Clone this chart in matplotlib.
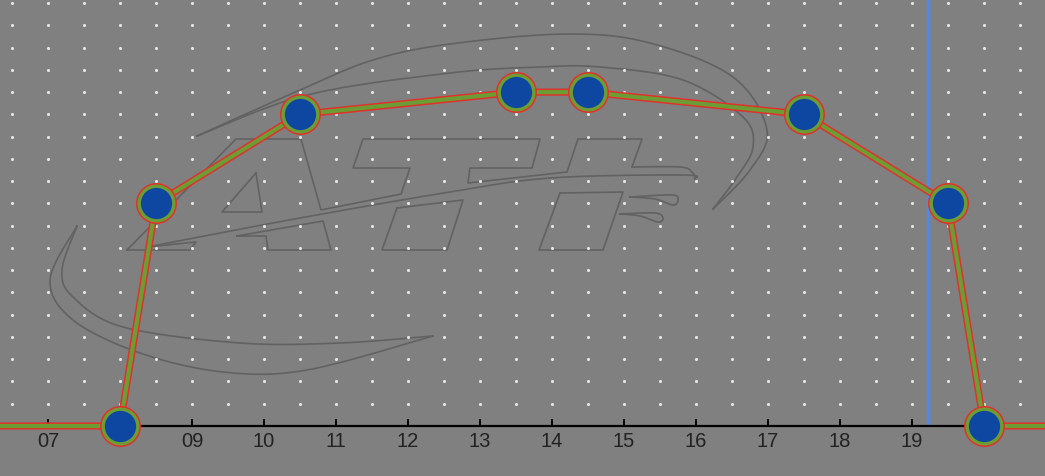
import numpy as np
import matplotlib
matplotlib.use("Agg")
import matplotlib.pyplot as plt
import matplotlib.transforms as mtransforms

# data (hour of day, value)
hours = [6.0, 8.0, 8.5, 10.5, 13.5, 14.5, 17.5, 19.5, 20.0, 21.0]
values = [0, 0, 10, 14, 15, 15, 14, 10, 0, 0]
marker_hours = hours[1:-1]
marker_values = values[1:-1]
now_hour = 19.22
tick_hours = [7, 8, 9, 10, 11, 12, 13, 14, 15, 16, 17, 18, 19]
tick_labels = ["07", "", "09", "10", "11", "12", "13", "14", "15", "16", "17", "18", "19"]

BG = "#808080"
RED = "#e0322c"
GREEN = "#6c9c34"
BLUE = "#0d47a1"
LOGO = "#626262"


def smooth(pts, n=12):
    # catmull-rom through the given points
    p = np.array(pts, float)
    p = np.vstack([p[0], p, p[-1]])
    out = []
    t = np.linspace(0, 1, n, endpoint=False)[:, None]
    for i in range(1, len(p) - 2):
        p0, p1, p2, p3 = p[i - 1], p[i], p[i + 1], p[i + 2]
        out.append(0.5 * (2 * p1 + (-p0 + p2) * t + (2 * p0 - 5 * p1 + 4 * p2 - p3) * t ** 2
                          + (-p0 + 3 * p1 - 3 * p2 + p3) * t ** 3))
    out.append(p[-2][None])
    return np.vstack(out)


fig = plt.figure(figsize=(10.45, 4.76), dpi=100, facecolor=BG)
ax = fig.add_axes([0, 50 / 476, 1, 426 / 476])
ax.set_facecolor(BG)
ax.set_xlim(6.333, 20.847)
ax.set_ylim(0, 19.14)

# watermark logo, drawn in pixel coordinates
px = mtransforms.Affine2D().scale(1 / 1045, -1 / 476).translate(0, 1) + fig.transFigure
curves = [
    [(197, 136), (300, 90), (373, 60), (450, 44), (567, 34), (650, 43), (733, 77), (767, 130), (750, 170), (713, 209)],
    [(197, 136), (307, 95), (450, 73), (540, 67), (600, 67), (683, 80), (743, 117), (753, 147), (737, 177), (713, 209)],
    [(77, 226), (50, 280), (73, 320), (140, 353), (223, 372), (307, 370), (433, 336)],
    [(77, 226), (62, 270), (73, 297), (123, 327), (240, 343), (340, 343), (433, 336)],
    [(147, 247), (300, 218), (450, 192), (550, 178), (683, 175), (695, 179)],
    [(632, 167), (680, 167), (692, 172), (695, 179)],
    [(630, 197), (672, 195), (678, 200), (673, 205), (655, 199), (630, 197)],
    [(620, 214), (655, 213), (663, 218), (658, 222), (640, 216), (620, 214)],
]
polys = [
    [(127, 250), (236, 139), (301, 139), (321, 210), (401, 194), (410, 168), (353, 168), (363, 139),
     (540, 139), (532, 168), (470, 168), (468, 183), (567, 172), (578, 139), (642, 139), (632, 167)],
    [(256, 173), (262, 212), (222, 212), (256, 173)],
    [(237, 236), (323, 221), (331, 250), (268, 250), (266, 236), (237, 236)],
    [(127, 250), (190, 250), (196, 242), (147, 247)],
    [(397, 208), (463, 200), (447, 250), (382, 250), (397, 208)],
    [(560, 193), (623, 192), (603, 250), (539, 250), (560, 193)],
]
for c in curves:
    s = smooth(c)
    ax.plot(s[:, 0], s[:, 1], color=LOGO, lw=1.2, transform=px, zorder=0.5, clip_on=False)
for pg in polys:
    pg = np.array(pg)
    ax.plot(pg[:, 0], pg[:, 1], color=LOGO, lw=1.2, transform=px, zorder=0.5, clip_on=False)

# dotted grid
gx, gy = np.meshgrid(np.arange(6.5, 21, 0.5), np.arange(1, 20, 1))
ax.scatter(gx.ravel(), gy.ravel(), s=5, color="#e6e6e6", linewidths=0, zorder=1)

# current time marker
ax.axvline(now_hour, color="#4a88f2", lw=2.4, zorder=2)

# line: red outline with green core
ax.plot(hours, values, color=RED, lw=5.2, zorder=3, solid_joinstyle="round", clip_on=False)
ax.plot(hours, values, color=GREEN, lw=3.0, zorder=3.1, solid_joinstyle="round", clip_on=False)
ax.scatter(marker_hours, marker_values, s=29.5 ** 2, color=RED, linewidths=0, zorder=4, clip_on=False)
ax.scatter(marker_hours, marker_values, s=27.3 ** 2, color=GREEN, linewidths=0, zorder=4.1, clip_on=False)
ax.scatter(marker_hours, marker_values, s=22.5 ** 2, color=BLUE, linewidths=0, zorder=4.2, clip_on=False)

# axis
for side in ["left", "right", "top"]:
    ax.spines[side].set_visible(False)
ax.spines["bottom"].set_color("black")
ax.spines["bottom"].set_linewidth(1.6)
ax.spines["bottom"].set_zorder(2.5)
ax.set_yticks([])
ax.set_xticks(tick_hours)
ax.set_xticklabels(tick_labels, family="Liberation Sans", fontsize=14.5, color="#222222")
ax.tick_params(axis="x", direction="in", length=5, width=1.4, color="black", pad=4)

fig.savefig("out.png", dpi=100, facecolor=BG)
